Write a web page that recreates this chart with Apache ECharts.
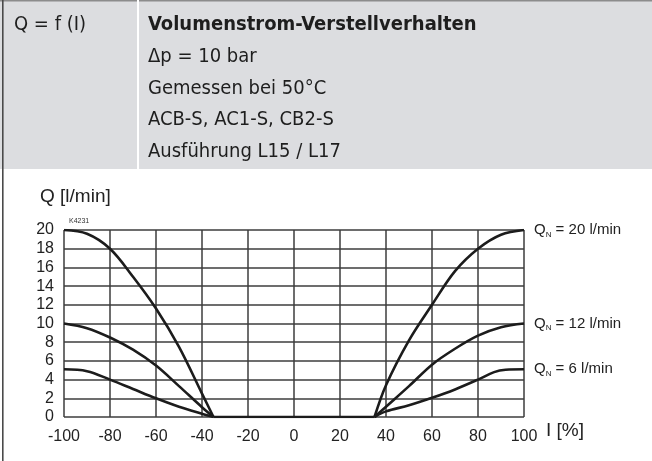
<!DOCTYPE html>
<html>
<head>
<meta charset="utf-8">
<script src="https://cdn.jsdelivr.net/npm/echarts@6/dist/echarts.min.js"></script>
<style>
html,body{margin:0;padding:0;background:#fff;}
#c{width:652px;height:461px;}
</style>
</head>
<body>
<div id="c"></div>
<script>
// ---- data ----
const xRange = [-100, 100];
const xStep = 20;
const yRange = [0, 20];
const yStep = 2;

const left20  = [[-100,20],[-90,19.6],[-80,18],[-70,15],[-60,11.6],[-50,7.5],[-40,2.5],[-35,0]];
const right20 = [[35,0],[40,3.4],[50,8.2],[60,12],[70,15.6],[80,18],[90,19.5],[100,20]];
const left10  = [[-100,10],[-90,9.5],[-80,8.5],[-70,7.2],[-60,5.5],[-50,3.3],[-40,1.05],[-35,0]];
const right10 = [[35,0],[40,1.1],[50,3.3],[60,5.6],[70,7.3],[80,8.7],[90,9.6],[100,10]];
const left5   = [[-100,5.1],[-90,4.9],[-80,4],[-70,3],[-60,2],[-50,1.1],[-40,0.35],[-35,0]];
const right5  = [[35,0],[40,0.6],[50,1.25],[60,2.05],[70,2.95],[80,4],[87,4.8],[92,5.05],[100,5.1]];
const zeroBand = [[-35,0],[35,0]];

const seriesLabels = ['20 l/min', '12 l/min', '6 l/min'];

const headerLeft = 'Q = f (I)';
const headerTitle = 'Volumenstrom-Verstellverhalten';
const headerLines = ['\u0394p = 10 bar', 'Gemessen bei 50\u00b0C', 'ACB-S, AC1-S, CB2-S', 'Ausf\u00fchrung L15 / L17'];
const yName = 'Q [l/min]';
const xName = 'I [%]';
const code = 'K4231';

// ---- chart ----
const chart = echarts.init(document.getElementById('c'), null, {renderer: 'canvas'});
const condensed = '"DejaVu Sans Condensed", "Liberation Sans Narrow", sans-serif';
const sans = '"Liberation Sans", Arial, sans-serif';
const lineColor = '#1c1c1c';
const gridColor = '#3c3c3c';

function curve(data, label) {
  const s = {
    type: 'line', data: data, smooth: 0.35,
    symbol: 'none', lineStyle: {color: lineColor, width: 2.6}, z: 5,
    silent: true, animation: false
  };
  if (label) {
    s.endLabel = {
      show: true, distance: 10,
      formatter: '{a|Q}{b|N}{a| = ' + label + '}',
      rich: {
        a: {fontFamily: sans, fontSize: 15, color: '#222'},
        b: {fontFamily: sans, fontSize: 8, color: '#222', padding: [9, 0, 0, 0]}
      }
    };
  }
  return s;
}

const headerGraphics = [
  {type: 'rect', shape: {x: 0, y: 0, width: 652, height: 169}, style: {fill: '#dcdde0'}, z: 0},
  {type: 'rect', shape: {x: 0, y: 0, width: 652, height: 1.5}, style: {fill: '#8c8c8c'}, z: 1},
  {type: 'rect', shape: {x: 137, y: 0, width: 2, height: 169}, style: {fill: '#ffffff'}, z: 1},
  {type: 'rect', shape: {x: 2, y: 0, width: 1.6, height: 461}, style: {fill: '#4a4a4a'}, z: 2},
  {type: 'text', left: 14, top: 15, style: {text: headerLeft, font: '20px ' + condensed, fill: '#1e1e1e'}, z: 3},
  {type: 'text', left: 148, top: 15, style: {text: headerTitle, font: 'bold 20px ' + condensed, fill: '#1e1e1e'}, z: 3}
];
headerLines.forEach(function (t, i) {
  headerGraphics.push({type: 'text', left: 148, top: 47 + i * 31.5, style: {text: t, font: '20px ' + condensed, fill: '#1e1e1e'}, z: 3});
});
headerGraphics.push(
  {type: 'text', left: 40, top: 187, style: {text: yName, font: '19px ' + sans, fill: '#222'}, z: 3},
  {type: 'text', left: 546, top: 421, style: {text: xName, font: '19px ' + sans, fill: '#222'}, z: 3},
  {type: 'text', left: 69, top: 218, style: {text: code, font: '7px ' + sans, fill: '#333'}, z: 3}
);

chart.setOption({
  animation: false,
  backgroundColor: '#ffffff',
  grid: {left: 64, right: 128, top: 230, bottom: 44, containLabel: false},
  xAxis: {
    type: 'value', min: xRange[0], max: xRange[1], interval: xStep,
    axisLine: {show: false}, axisTick: {show: false},
    axisLabel: {fontFamily: sans, fontSize: 16, color: '#222', margin: 12},
    splitLine: {show: true, lineStyle: {color: gridColor, width: 1.5}}
  },
  yAxis: {
    type: 'value', min: yRange[0], max: yRange[1], interval: yStep,
    axisLine: {show: false}, axisTick: {show: false},
    axisLabel: {fontFamily: sans, fontSize: 16, color: '#222', margin: 10, lineHeight: 16},
    splitLine: {show: true, lineStyle: {color: gridColor, width: 1.5}}
  },
  graphic: headerGraphics,
  series: [
    curve(left20), curve(right20, seriesLabels[0]),
    curve(left10), curve(right10, seriesLabels[1]),
    curve(left5), curve(right5, seriesLabels[2]),
    curve(zeroBand)
  ]
});
</script>
</body>
</html>
